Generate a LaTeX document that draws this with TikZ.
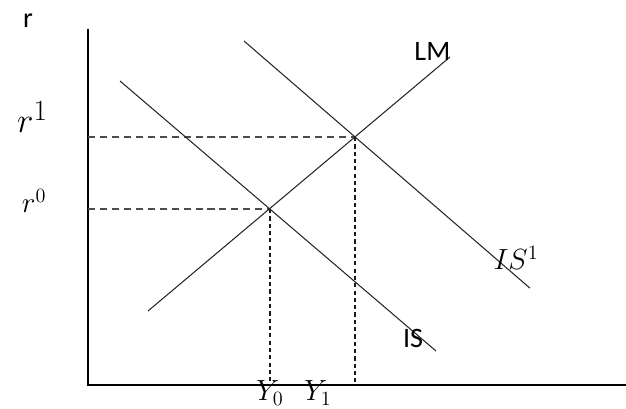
\documentclass[tikz,border=0pt]{standalone}
\usepackage{fontspec}
\setsansfont{Carlito}
\usetikzlibrary{positioning}

\begin{document}
\begin{tikzpicture}[
    axis/.style={draw=black, line width=1.4pt},
    curve/.style={draw=black!85, line width=0.75pt},
    hguide/.style={draw=black!70, line width=1.2pt, dash pattern=on 5pt off 3.5pt},
    vguide/.style={draw=black!90, line width=1.2pt, dash pattern=on 3pt off 2.2pt},
    txt/.style={font=\sffamily\fontsize{20}{24}\selectfont, inner sep=0pt, anchor=base},
    mtxt/.style={font=\fontsize{21}{25}\selectfont, inner sep=0pt, anchor=base},
]
\useasboundingbox (-2.2,-0.6) rectangle (13.45,9.625);

% Sumbu
\coordinate (o) at (0,0);
\coordinate (ytop) at (0,8.9);
\coordinate (xend) at (13.45,0);
\draw[axis] (ytop) -- (o) -- (xend);

% Titik keseimbangan
\coordinate (e0) at (4.55,4.4);
\coordinate (e1) at (6.675,6.2);

% Garis putus-putus
\draw[hguide] (o |- e0) -- (e0);
\draw[hguide] (o |- e1) -- (e1);
\draw[vguide] (e0) -- (e0 |- o);
\draw[vguide] (e1) -- (e1 |- o);

% Kurva LM, IS, IS1
\coordinate (lmA) at (1.5,1.85);
\coordinate (lmB) at (9.05,8.2);
\coordinate (isA) at (0.8,7.6);
\coordinate (isB) at (8.7,0.85);
\coordinate (is1A) at (3.9,8.6);
\coordinate (is1B) at (11.05,2.42);
\draw[curve] (lmA) -- (lmB);
\draw[curve] (isA) -- (isB);
\draw[curve] (is1A) -- (is1B);

% Label
\node[txt] (rlab) at (-1.5,8.93) {r};
\node[mtxt, font=\fontsize{28}{32}\selectfont] (r1lab) at (-1.39,6.3) {$r^1$};
\node[mtxt] (r0lab) at (-1.35,4.3) {$r^0$};
\node[txt] (lmlab) at (8.61,8.11) {LM};
\node[txt] (islab) at (8.125,0.925) {IS};
\node[mtxt] (is1lab) at (10.7,2.875) {$IS^1$};
\node[mtxt] (y0lab) at (4.55,-0.4) {$Y_0$};
\node[mtxt] (y1lab) at (5.75,-0.4) {$Y_1$};

\end{tikzpicture}
\end{document}
